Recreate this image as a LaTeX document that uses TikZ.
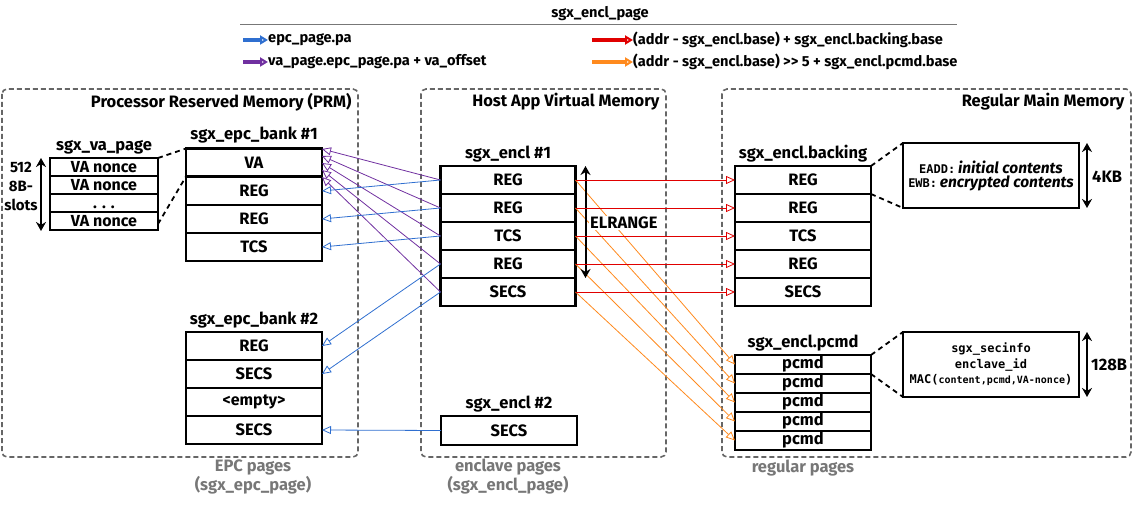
\documentclass[tikz,border=0pt]{standalone}
\usepackage{fontspec}
\setmainfont{Fira Sans}
\setmonofont{DejaVu Sans Mono}
\usetikzlibrary{arrows.meta,calc}
\definecolor{cblue}{HTML}{2F6FD0}
\definecolor{cpurple}{HTML}{7030A0}
\definecolor{cred}{HTML}{E00000}
\definecolor{corange}{HTML}{FF8A1E}
\definecolor{cgray}{HTML}{666666}
\definecolor{lgray}{HTML}{777777}
\tikzset{
  mainfont/.style={font=\bfseries\fontsize{16.5}{18}\selectfont},
  cellA/.style={draw, line width=2.6pt, inner sep=0pt, outer sep=0pt, minimum width=136pt, minimum height=28pt, mainfont},
  cellB/.style={draw, line width=2.2pt, inner sep=0pt, outer sep=0pt, minimum width=108pt, minimum height=18pt, text height=11pt, text depth=0pt, font=\bfseries\fontsize{16}{17}\selectfont},
  cellC/.style={draw, line width=2.6pt, inner sep=0pt, outer sep=0pt, minimum width=136pt, minimum height=19pt, text height=10pt, text depth=2pt, mainfont},
  infobox/.style={draw, line width=2pt, inner sep=0pt, outer sep=0pt, minimum width=176pt, minimum height=65pt, align=center},
  region/.style={draw=cgray, line width=1.6pt, dash pattern=on 5pt off 3pt, rounded corners=5pt},
  regtitle/.style={anchor=east, mainfont},
  tablabel/.style={mainfont},
  bottomlabel/.style={text=lgray, align=center, font=\bfseries\fontsize{16.5}{19}\selectfont},
  tipo/.style={-{Triangle[open,length=9pt,width=8pt]}},
  conn/.style={line width=0.8pt, tipo},
  legarrow/.style={line width=3.2pt, -{Triangle[open,length=8pt,width=9pt,line width=2pt]}},
  legtext/.style={anchor=west, inner sep=0pt, font=\bfseries\fontsize{14.6}{16}\selectfont},
  dimarrow/.style={line width=2pt, {Stealth[length=9pt,width=10pt]}-{Stealth[length=9pt,width=10pt]}},
  linkdash/.style={line width=1.8pt, dash pattern=on 5pt off 4pt},
}
\begin{document}
\begin{tikzpicture}[x=1pt,y=-1pt]
\useasboundingbox (0,0) rectangle (1136,513);

% legend
\node[font=\bfseries\fontsize{14.6}{16}\selectfont] (legtitle) at (600,14) {sgx\_encl\_page};
\draw[lgray, line width=1pt] (240,25) -- (957,25);
\coordinate (lb) at (243,40);
\node[legtext] (lbt) at (268,40) {epc\_page.pa};
\draw[legarrow, cblue] (lb) -- (lbt.west);
\coordinate (lp) at (243,62);
\node[legtext] (lpt) at (268,62) {va\_page.epc\_page.pa + va\_offset};
\draw[legarrow, cpurple] (lp) -- (lpt.west);
\coordinate (lr) at (592,40);
\node[legtext] (lrt) at (633,40) {(addr - sgx\_encl.base) + sgx\_encl.backing.base};
\draw[legarrow, cred] (lr) -- (lrt.west);
\coordinate (lo) at (592,62);
\node[legtext] (lot) at (633,62) {(addr - sgx\_encl.base) >{}> 5 + sgx\_encl.pcmd.base};
\draw[legarrow, corange] (lo) -- (lot.west);

% regions
\draw[region] (2,89) rectangle (358,457);
\draw[region] (421,89) rectangle (666,457);
\draw[region] (722,89) rectangle (1131,457);
\node[regtitle] (t1) at (355,102) {Processor Reserved Memory (PRM)};
\node[regtitle] (t2) at (663,102) {Host App Virtual Memory};
\node[regtitle] (t3) at (1128,102) {Regular Main Memory};
\node[bottomlabel] (bl1) at (253,477) {EPC pages\\(sgx\_epc\_page)};
\node[bottomlabel] (bl2) at (508,477) {enclave pages\\(sgx\_encl\_page)};
\node[bottomlabel] (bl3) at (803,468) {regular pages};

% sgx_va_page
\node[tablabel] (vat) at (104,147) {sgx\_va\_page};
\node[cellB] (va1) at (104,167) {VA nonce};
\node[cellB] (va2) at (104,185) {VA nonce};
\node[cellB] (va3) at (104,203) {. . .};
\node[cellB] (va4) at (104,221) {VA nonce};
\draw[dimarrow] (41,158) -- (41,231);
\node[align=center, font=\bfseries\fontsize{15}{19}\selectfont] (slots) at (21,186) {512\\8B-\\slots};

% epc bank 1
\node[tablabel] (b1t) at (254,135) {sgx\_epc\_bank \#1};
\node[cellA] (b1r1) at (254,162.5) {VA};
\node[cellA] (b1r2) at (254,191) {REG};
\node[cellA] (b1r3) at (254,219) {REG};
\node[cellA] (b1r4) at (254,247) {TCS};
\draw[linkdash] (va1.north east) -- (b1r1.north west);
\draw[linkdash] ([yshift=-3pt]va4.east) -- (b1r1.south west);

% epc bank 2
\node[tablabel] (b2t) at (254,320) {sgx\_epc\_bank \#2};
\node[cellA] (b2r1) at (254,346) {REG};
\node[cellA] (b2r2) at (254,374) {SECS};
\node[cellA, font=\bfseries\fontsize{16}{17}\selectfont] (b2r3) at (254,402) {<empty>};
\node[cellA] (b2r4) at (254,430) {SECS};

% sgx_encl #1
\node[tablabel] (e1t) at (508,154) {sgx\_encl \#1};
\node[cellA, minimum width=135pt] (e1r1) at (508,180) {REG};
\node[cellA, minimum width=135pt] (e1r2) at (508,208) {REG};
\node[cellA, minimum width=135pt] (e1r3) at (508,236) {TCS};
\node[cellA, minimum width=135pt] (e1r4) at (508,264) {REG};
\node[cellA, minimum width=135pt] (e1r5) at (508,292) {SECS};

% sgx_encl #2
\node[tablabel] (e2t) at (509,404) {sgx\_encl \#2};
\node[cellA, minimum height=29pt] (e2r1) at (509,430.5) {SECS};

% backing
\node[tablabel] (bkt) at (803,154) {sgx\_encl.backing};
\node[cellA] (bk1) at (803,180) {REG};
\node[cellA] (bk2) at (803,208) {REG};
\node[cellA] (bk3) at (803,236) {TCS};
\node[cellA] (bk4) at (803,264) {REG};
\node[cellA] (bk5) at (803,292) {SECS};

% pcmd
\node[tablabel] (pct) at (803,343) {sgx\_encl.pcmd};
\node[cellC] (pc1) at (803,364.5) {pcmd};
\node[cellC] (pc2) at (803,383.5) {pcmd};
\node[cellC] (pc3) at (803,402.5) {pcmd};
\node[cellC] (pc4) at (803,421.5) {pcmd};
\node[cellC] (pc5) at (803,440.5) {pcmd};

% info boxes
\node[infobox] (inf1) at (991,175.5) {{\ttfamily\bfseries\fontsize{12}{14}\selectfont EADD:} {\bfseries\itshape\fontsize{15.5}{17}\selectfont initial contents}\\[1pt]{\ttfamily\bfseries\fontsize{12}{14}\selectfont EWB:} {\bfseries\itshape\fontsize{15.5}{17}\selectfont encrypted contents}};
\node[infobox, font=\ttfamily\bfseries\fontsize{12}{15.5}\selectfont] (inf2) at (991,364.5) {sgx\_secinfo\\enclave\_id\\MAC({\fontsize{10}{12}\selectfont content,pcmd,VA-nonce})};
\draw[linkdash] (bk1.north east) -- (inf1.north west);
\draw[linkdash] (bk1.south east) -- (inf1.south west);
\draw[linkdash] (pc1.north east) -- (inf2.north west);
\draw[linkdash] (pc1.south east) -- (inf2.south west);
\draw[dimarrow] ([xshift=8pt]inf1.north east) -- ([xshift=8pt]inf1.south east);
\node[mainfont, anchor=west, inner sep=0pt] (kb4) at (1092,177) {4KB};
\draw[dimarrow] ([xshift=8pt]inf2.north east) -- ([xshift=8pt]inf2.south east);
\node[mainfont, anchor=west, inner sep=0pt] (b128) at (1091,365) {128B};

% orange connectors
\foreach \i in {1,...,5} {
  \draw[conn, corange] (e1r\i.east) -- (pc\i.west);
}
% ELRANGE
\node[mainfont, fill=white, inner sep=1pt, anchor=west] (elr) at (589,223) {ELRANGE};
\draw[dimarrow] ([xshift=10pt]e1r1.north east) -- ([xshift=10pt]e1r4.south east);

% red connectors
\foreach \i in {1,...,5} {
  \draw[conn, cred] (e1r\i.east) -- (bk\i.west);
}

% purple connectors
\draw[conn, cpurple] (e1r1.west) -- ([yshift=13.5pt]b1r1.east);
\draw[conn, cpurple] (e1r2.west) -- ([yshift=6.5pt]b1r1.east);
\draw[conn, cpurple] (e1r3.west) -- ([yshift=-0.5pt]b1r1.east);
\draw[conn, cpurple] (e1r4.west) -- ([yshift=-7.5pt]b1r1.east);
\draw[conn, cpurple] (e1r5.west) -- ([yshift=-14.5pt]b1r1.east);

% blue connectors
\draw[conn, cblue] (e1r1.west) -- (b1r2.east);
\draw[conn, cblue] (e1r2.west) -- (b1r3.east);
\draw[conn, cblue] (e1r3.west) -- (b1r4.east);
\draw[conn, cblue] (e1r4.west) -- (b2r1.east);
\draw[conn, cblue] (e1r5.west) -- (b2r2.east);
\draw[conn, cblue] (e2r1.west) -- (b2r4.east);
\end{tikzpicture}
\end{document}
